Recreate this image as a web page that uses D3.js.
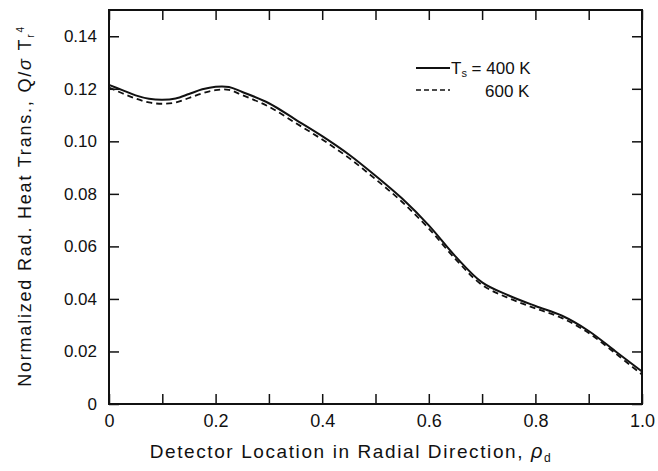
<!DOCTYPE html>
<html>
<head>
<meta charset="utf-8">
<script src="https://cdn.jsdelivr.net/npm/d3@7"></script>
<style>
  html, body { margin: 0; padding: 0; background: #fff; }
  svg { display: block; }
  text { font-family: "Liberation Sans", Arial, sans-serif; fill: #111; }
</style>
</head>
<body>
<svg id="chart" width="658" height="471"></svg>
<script>
// Detector location (radial) and normalized radiative heat transfer for two source temperatures
const rho = [0, 0.025, 0.05, 0.075, 0.1, 0.125, 0.15, 0.175, 0.2, 0.225, 0.25, 0.3, 0.35, 0.4,
             0.45, 0.5, 0.55, 0.6, 0.65, 0.7, 0.75, 0.8, 0.85, 0.9, 0.95, 1.0];
const q400 = [0.1215, 0.1195, 0.1175, 0.1162, 0.1158, 0.1163, 0.1180, 0.1198, 0.1208, 0.1207, 0.1188,
              0.1145, 0.1083, 0.1020, 0.0950, 0.0869, 0.0782, 0.0680, 0.0562, 0.0463, 0.0413, 0.0373,
              0.0336, 0.0278, 0.0201, 0.0124];
const q600 = [0.1205, 0.1183, 0.1163, 0.1148, 0.1143, 0.1148, 0.1165, 0.1183, 0.1195, 0.1196, 0.1176,
              0.1132, 0.1070, 0.1007, 0.0937, 0.0856, 0.0769, 0.0668, 0.0552, 0.0453, 0.0403, 0.0364,
              0.0327, 0.0270, 0.0193, 0.0112];
const xTicks = [0, 0.1, 0.2, 0.3, 0.4, 0.5, 0.6, 0.7, 0.8, 0.9, 1.0];
const xTickLabels = ["0", "", "0.2", "", "0.4", "", "0.6", "", "0.8", "", "1.0"];
const yTicks = [0, 0.02, 0.04, 0.06, 0.08, 0.10, 0.12, 0.14];
const yTickLabels = ["0", "0.02", "0.04", "0.06", "0.08", "0.10", "0.12", "0.14"];

const svg = d3.select("#chart");
const m = { left: 109, right: 642, top: 10, bottom: 404 };

const x = d3.scaleLinear().domain([0, 1]).range([m.left, m.right]);
const y = d3.scaleLinear().domain([0, 0.15]).range([m.bottom, m.top]);

// Frame
svg.append("rect")
  .attr("x", m.left).attr("y", m.top)
  .attr("width", m.right - m.left).attr("height", m.bottom - m.top)
  .attr("fill", "none").attr("stroke", "#111").attr("stroke-width", 2);

function styleAxis(g) {
  g.select(".domain").remove();
  g.selectAll(".tick line").attr("stroke", "#111").attr("stroke-width", 1.5);
}

// Bottom axis with inward ticks
const gx = svg.append("g").attr("transform", `translate(0,${m.bottom})`)
  .call(d3.axisBottom(x).tickValues(xTicks).tickSizeInner(-10).tickSizeOuter(0).tickPadding(10)
        .tickFormat((d, i) => xTickLabels[i]));
styleAxis(gx);
gx.selectAll(".tick text").attr("font-size", 18).attr("fill", "#111");

// Top axis, ticks only
const gt = svg.append("g").attr("transform", `translate(0,${m.top})`)
  .call(d3.axisTop(x).tickValues(xTicks).tickSizeInner(-10).tickSizeOuter(0).tickFormat(""));
styleAxis(gt);

// Left axis with inward ticks
const gy = svg.append("g").attr("transform", `translate(${m.left},0)`)
  .call(d3.axisLeft(y).tickValues(yTicks).tickSizeInner(-10).tickSizeOuter(0).tickPadding(12)
        .tickFormat((d, i) => yTickLabels[i]));
styleAxis(gy);
gy.selectAll(".tick text").attr("font-size", 17).attr("fill", "#111");

// Right axis, ticks only
const gr = svg.append("g").attr("transform", `translate(${m.right},0)`)
  .call(d3.axisRight(y).tickValues(yTicks).tickSizeInner(-10).tickSizeOuter(0).tickFormat(""));
styleAxis(gr);

// Curves
const line = d3.line().curve(d3.curveCatmullRom.alpha(0.5));
const pts = (vals) => rho.map((r, i) => [x(r), y(vals[i])]);

svg.append("path").attr("d", line(pts(q600)))
  .attr("fill", "none").attr("stroke", "#111").attr("stroke-width", 1.8)
  .attr("stroke-dasharray", "6,4");
svg.append("path").attr("d", line(pts(q400)))
  .attr("fill", "none").attr("stroke", "#111").attr("stroke-width", 2);

// Legend
const lg = svg.append("g");
lg.append("line").attr("x1", 416).attr("x2", 450).attr("y1", 68).attr("y2", 68)
  .attr("stroke", "#111").attr("stroke-width", 1.8);
lg.append("line").attr("x1", 416).attr("x2", 450).attr("y1", 90).attr("y2", 90)
  .attr("stroke", "#111").attr("stroke-width", 1.5).attr("stroke-dasharray", "5,3");
const t1 = lg.append("text").attr("x", 451).attr("y", 74).attr("font-size", 17);
t1.append("tspan").text("T");
t1.append("tspan").attr("font-size", 11).attr("dy", 3).text("s");
t1.append("tspan").attr("dy", -3).text(" = 400 K");
lg.append("text").attr("x", 485).attr("y", 97).attr("font-size", 17).text("600 K");

// Axis titles
const xt = svg.append("text").attr("x", 351).attr("y", 458)
  .attr("text-anchor", "middle").attr("font-size", 19).attr("letter-spacing", 1.6);
xt.append("tspan").text("Detector Location in Radial Direction, ");
xt.append("tspan").attr("font-style", "italic").attr("font-size", 20).text("ρ");
xt.append("tspan").attr("font-size", 12).attr("dy", 4).text("d");

const yt = svg.append("text")
  .attr("transform", "translate(31,206) rotate(-90)")
  .attr("text-anchor", "middle").attr("font-size", 18).attr("letter-spacing", 1.8);
yt.append("tspan").text("Normalized Rad. Heat Trans., Q/");
yt.append("tspan").attr("font-style", "italic").text("σ");
yt.append("tspan").text(" T");
yt.append("tspan").attr("font-size", 10).attr("dy", 3).text("r");
yt.append("tspan").attr("font-size", 10).attr("dy", -10).text("4");
</script>
</body>
</html>
